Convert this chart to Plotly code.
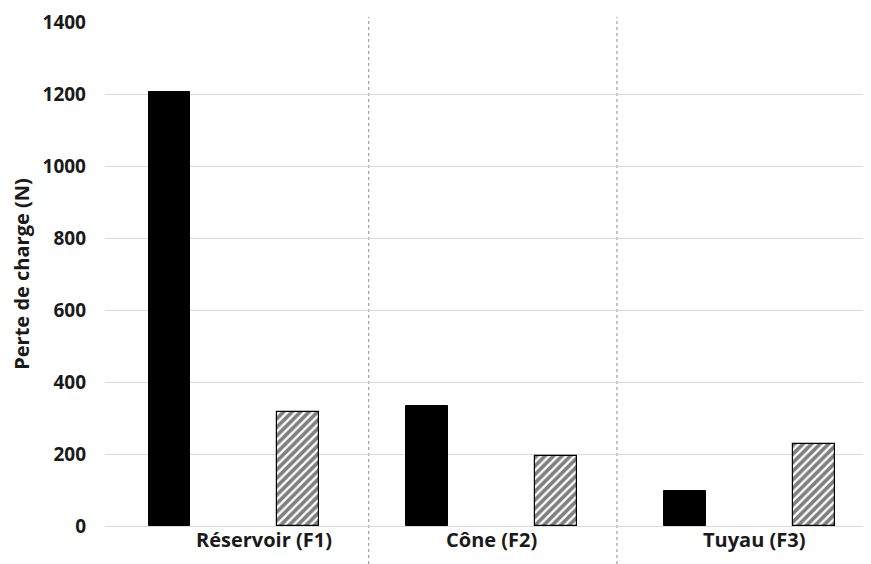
import plotly.graph_objects as go

categories = ["Réservoir (F1)", "Cône (F2)", "Tuyau (F3)"]
solid_values = [1206, 333, 98]
hatched_values = [318, 195, 229]
label_pos = [0.73, 2.5, 4.54]
y_ticks = [0, 200, 400, 600, 800, 1000, 1200, 1400]

x_solid = [2 * i for i in range(len(categories))]
x_hatch = [2 * i + 1 for i in range(len(categories))]

FONT = "Open Sans"
TXT = "#1a1a1a"

fig = go.Figure()
fig.add_trace(go.Bar(
    x=x_solid, y=solid_values, width=0.325,
    marker=dict(color="black", line=dict(color="black", width=1)),
    showlegend=False,
))
fig.add_trace(go.Bar(
    x=x_hatch, y=hatched_values, width=0.325,
    marker=dict(color="white", line=dict(color="black", width=1.2),
                pattern=dict(shape="/", fgcolor="black", bgcolor="white",
                             size=6, solidity=0.62)),
    showlegend=False,
))

for xd in [1.545, 3.47]:
    fig.add_shape(type="line", xref="x", yref="paper", x0=xd, x1=xd,
                  y0=-38 / 504, y1=1 + 5 / 504,
                  line=dict(color="#8c8c8c", width=1, dash="dot"), layer="below")

for name, xp in zip(categories, label_pos):
    fig.add_annotation(x=xp, y=0, xref="x", yref="paper", text=f"<b>{name}</b>",
                       showarrow=False, yshift=-29,
                       font=dict(family=FONT, size=20, color=TXT))

fig.update_layout(
    width=863, height=556,
    margin=dict(l=97, r=0, t=14, b=38),
    plot_bgcolor="white", paper_bgcolor="white",
    bargap=0,
    font=dict(family=FONT, color=TXT),
    xaxis=dict(range=[-0.5, 5.44], showticklabels=False, showgrid=False,
               zeroline=False, showline=False, ticks=""),
    yaxis=dict(range=[0, 1400], tickvals=y_ticks,
               ticktext=[f"<b>{v}</b>" for v in y_ticks],
               tickfont=dict(family=FONT, size=19, color=TXT),
               showgrid=True, gridcolor="#d9d9d9", gridwidth=1,
               zeroline=True, zerolinecolor="#d9d9d9", zerolinewidth=1,
               showline=False, ticks="", ticklabelstandoff=18,
               title=dict(text="<b>Perte de charge (N)</b>",
                          font=dict(family=FONT, size=20, color=TXT),
                          standoff=10)),
)

fig.write_html("out.html")
